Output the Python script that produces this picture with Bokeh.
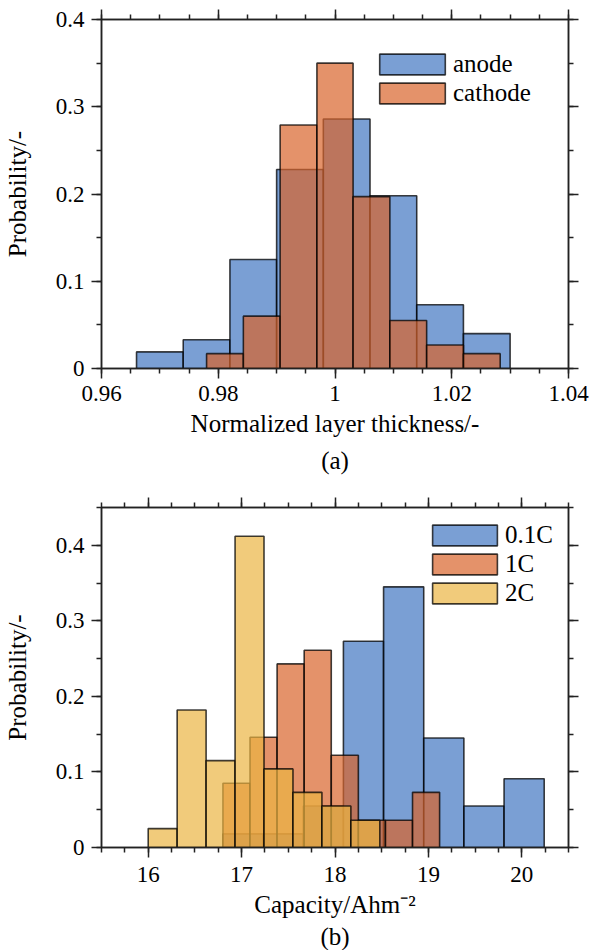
from bokeh.plotting import figure
from bokeh.models import (Range1d, FixedTicker, LinearAxis, CustomJSTickFormatter,
                          Legend, LegendItem, Title, CustomLabelingPolicy)
from bokeh.layouts import column
from bokeh.embed import file_html
from bokeh.resources import INLINE

FONT = "Liberation Serif"
FS_TICK = "23px"
FS_TEXT = "25px"

# ---------------- data: panel (a) ----------------
anode_edges = [0.966, 0.974, 0.982, 0.990, 0.998, 1.006, 1.014, 1.022, 1.030]
anode_prob = [0.019, 0.033, 0.125, 0.228, 0.286, 0.198, 0.073, 0.040]
cathode_edges = [0.978, 0.9843, 0.9906, 0.9969, 1.0031, 1.0094, 1.0157, 1.0220, 1.0283]
cathode_prob = [0.017, 0.060, 0.279, 0.350, 0.197, 0.055, 0.027, 0.017]
a_xticks = [0.96, 0.98, 1.00, 1.02, 1.04]
a_yticks = [0.0, 0.1, 0.2, 0.3, 0.4]

# ---------------- data: panel (b) ----------------
c01_edges = [16.80, 17.23, 17.66, 18.09, 18.52, 18.95, 19.38, 19.81, 20.24]
c01_prob = [0.018, 0.018, 0.055, 0.273, 0.345, 0.145, 0.055, 0.091]
c1_edges = [16.80, 17.09, 17.38, 17.67, 17.96, 18.25, 18.54, 18.83, 19.12]
c1_prob = [0.085, 0.146, 0.243, 0.261, 0.122, 0.036, 0.036, 0.073]
c2_edges = [16.00, 16.31, 16.62, 16.93, 17.24, 17.55, 17.86, 18.17, 18.48]
c2_prob = [0.025, 0.182, 0.115, 0.412, 0.104, 0.073, 0.055, 0.036]
b_xticks = [16, 17, 18, 19, 20]
b_yticks = [0.0, 0.1, 0.2, 0.3, 0.4]

BLUE = "#4276c2"
ORANGE = "#d8642b"
YELLOW = "#ebb543"
EDGE = "#000000"
AX = "#222222"

FMT = "var s = tick.toFixed(2); if (s.indexOf('.') >= 0) { s = s.replace(/0+$/, '').replace(/\\.$/, ''); } return s;"
HIDE = "for (const i of Array.from(indices)) { indices.unset(i) } return indices"


def frange(a, b, step):
    out = []
    n = int(round((b - a) / step))
    for i in range(n + 1):
        out.append(round(a + i * step, 6))
    return out


def style_axis(ax, ticks, minor, show_labels, standoff=7):
    ax.ticker = FixedTicker(ticks=ticks, minor_ticks=minor)
    ax.formatter = CustomJSTickFormatter(code=FMT)
    ax.major_tick_out = 10
    ax.major_tick_in = 0
    ax.minor_tick_out = 5
    ax.minor_tick_in = 0
    ax.major_tick_line_width = 1.5
    ax.minor_tick_line_width = 1.5
    ax.major_tick_line_color = AX
    ax.minor_tick_line_color = AX
    ax.axis_line_width = 1.5
    ax.axis_line_color = AX
    ax.major_label_text_font = FONT
    ax.major_label_text_color = "black"
    ax.axis_label_text_font = FONT
    ax.axis_label_text_font_size = FS_TEXT
    ax.axis_label_text_font_style = "normal"
    ax.axis_label_text_color = "black"
    if show_labels:
        ax.major_label_text_font_size = FS_TICK
        ax.major_label_standoff = standoff
    else:
        ax.major_label_text_font_size = "1px"
        ax.major_label_standoff = 0
        ax.major_label_policy = CustomLabelingPolicy(code=HIDE)


def make_fig(xr, yr, height, top_border, bottom_border, xticks, xminor, yticks, yminor,
             xlabel, caption, caption_standoff, tick_standoff):
    p = figure(width=590, height=height, x_range=Range1d(*xr), y_range=Range1d(*yr),
               output_backend="svg", toolbar_location=None,
               min_border_left=101, min_border_right=22,
               min_border_top=top_border, min_border_bottom=bottom_border)
    p.xgrid.visible = False
    p.ygrid.visible = False
    p.outline_line_color = AX
    p.outline_line_width = 1.5
    p.background_fill_color = "white"
    p.border_fill_color = "white"
    p.add_layout(LinearAxis(), "above")
    p.add_layout(LinearAxis(), "right")
    style_axis(p.below[0], xticks, xminor, True, tick_standoff)
    style_axis(p.left[0], yticks, yminor, True, 7)
    style_axis(p.above[0], xticks, xminor, False)
    style_axis(p.right[0], yticks, yminor, False)
    p.below[0].axis_label = xlabel
    p.below[0].axis_label_standoff = 6
    p.left[0].axis_label = "Probability/-"
    p.left[0].axis_label_standoff = 22
    p.add_layout(Title(text=caption, align="center", text_font=FONT, text_font_size=FS_TEXT,
                       text_font_style="normal", text_color="black",
                       standoff=caption_standoff), "below")
    return p


def bars(p, edges, prob, color):
    return p.quad(left=edges[:-1], right=edges[1:], top=prob, bottom=0,
                  fill_color=color, fill_alpha=0.7, line_color=EDGE, line_alpha=0.75,
                  line_width=1.6)


def legend(p, items, loc, gw):
    lg = Legend(items=[LegendItem(label=l, renderers=[r]) for l, r in items],
                location=loc, glyph_width=gw, glyph_height=26, label_height=29,
                spacing=0, padding=0, margin=0, border_line_color=None,
                background_fill_alpha=0, label_text_font=FONT, label_text_font_size=FS_TEXT,
                label_standoff=0, label_text_color="black")
    p.add_layout(lg)


# ---------------- panel (a) ----------------
pa = make_fig((0.96, 1.04), (0, 0.4), 488, 19, 120,
              a_xticks, frange(0.96, 1.04, 0.005), a_yticks, frange(0.0, 0.4, 0.05),
              "Normalized layer thickness/-", "(a)", 10, 7)
ra = bars(pa, anode_edges, anode_prob, BLUE)
rc = bars(pa, cathode_edges, cathode_prob, ORANGE)
legend(pa, [("anode", ra), ("cathode", rc)], (270, 261), 82)

# ---------------- panel (b) ----------------
pb = make_fig((15.5, 20.5), (0, 0.45), 462, 19, 102,
              b_xticks, frange(15.5, 20.5, 0.25), b_yticks, frange(0.0, 0.45, 0.05),
              "Capacity/Ahm\u207b\u00b2", "(b)", 1, 9)
r01 = bars(pb, c01_edges, c01_prob, BLUE)
r1 = bars(pb, c1_edges, c1_prob, ORANGE)
r2 = bars(pb, c2_edges, c2_prob, YELLOW)
legend(pb, [("0.1C", r01), ("1C", r1), ("2C", r2)], (323, 240), 81)

layout = column(pa, pb, spacing=0)
open("out.html", "w").write(file_html(layout, INLINE))
